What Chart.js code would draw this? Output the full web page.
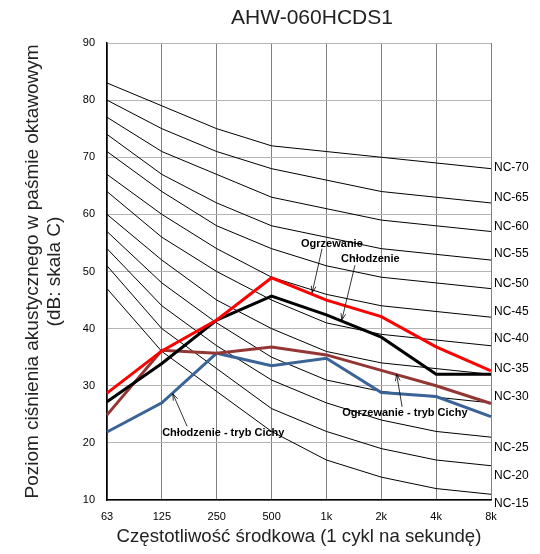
<!DOCTYPE html>
<html>
<head>
<meta charset="utf-8">
<title>AHW-060HCDS1</title>
<script src="https://cdn.jsdelivr.net/npm/chart.js@4.4.0/dist/chart.umd.min.js"></script>
<style>
    html, body { margin: 0; padding: 0; background: #fff; }
</style>
</head>
<body>
<canvas id="ncChart" width="540" height="554"></canvas>
<script>
// octave band centre frequencies
const bands = ['63', '125', '250', '500', '1k', '2k', '4k', '8k'];
const yTicks = [10, 20, 30, 40, 50, 60, 70, 80, 90];

// NC reference curves
const nc15 = [47, 36, 29, 22, 17, 14, 12, 11];
const nc20 = [51, 40, 33, 26, 22, 19, 17, 16];
const nc25 = [54, 44, 37, 31, 27, 24, 22, 21];
const nc30 = [57, 48, 41, 35, 31, 29, 28, 27];
const nc35 = [60, 52, 45, 40, 36, 34, 33, 32];
const nc40 = [64, 56, 50, 45, 41, 39, 38, 37];
const nc45 = [67, 60, 54, 49, 46, 44, 43, 42];
const nc50 = [71, 64, 58, 54, 51, 49, 48, 47];
const nc55 = [74, 67, 62, 58, 56, 54, 53, 52];
const nc60 = [77, 71, 67, 63, 61, 59, 58, 57];
const nc65 = [80, 75, 71, 68, 66, 64, 63, 62];
const nc70 = [83, 79, 75, 72, 71, 70, 69, 68];
const ncCurves = [nc15, nc20, nc25, nc30, nc35, nc40, nc45, nc50, nc55, nc60, nc65, nc70];
const ncNames = ['NC-15', 'NC-20', 'NC-25', 'NC-30', 'NC-35', 'NC-40', 'NC-45', 'NC-50', 'NC-55', 'NC-60', 'NC-65', 'NC-70'];
// where the NC names sit on the right (dB)
const ncLabelAt = [9.3, 14.2, 19.1, 28.0, 32.9, 38.2, 42.9, 47.9, 53.2, 57.8, 62.9, 68.1];

// measured unit
const heating = [28.7, 36.1, 41.5, 48.9, 45.0, 42.1, 36.8, 32.6];
const cooling = [27.2, 33.9, 41.5, 45.7, 42.4, 38.5, 32.0, 32.0];
const heatingQuiet = [24.9, 36.2, 35.7, 36.8, 35.4, 32.7, 30.0, 26.9];
const coolingQuiet = [21.9, 27.0, 35.7, 33.5, 34.8, 28.8, 28.1, 24.6];

const FONT = "'Liberation Sans', Arial, sans-serif";

// callouts: text centre and arrow (band index, dB)
const notes = [
    { text: 'Ogrzewanie', x: 4.1, y: 54.8, from: [3.92, 54.0], to: [3.74, 46.3] },
    { text: 'Chłodzenie', x: 4.8, y: 52.2, from: [4.52, 51.1], to: [4.28, 41.5] },
    { text: 'Ogrzewanie - tryb Cichy', x: 5.43, y: 25.2, from: [5.38, 26.3], to: [5.28, 32.0] },
    { text: 'Chłodzenie - tryb Cichy', x: 2.12, y: 21.7, from: [1.46, 22.9], to: [1.2, 28.6] }
];

const ncDatasets = ncCurves.map((vals, i) => ({
    label: ncNames[i],
    data: vals,
    borderColor: '#000',
    borderWidth: 1,
    pointRadius: 0,
    order: 2
}));

function series(label, data, color) {
    return { label: label, data: data, borderColor: color, borderWidth: 3, pointRadius: 0, order: 1 };
}

const extras = {
    id: 'extras',
    afterDatasetsDraw(chart) {
        const ctx = chart.ctx;
        const x = chart.scales.x;
        const y = chart.scales.y;
        ctx.save();

        // NC names
        ctx.fillStyle = '#000';
        ctx.font = '12px ' + FONT;
        ctx.textAlign = 'left';
        ctx.textBaseline = 'middle';
        ncNames.forEach((name, i) => {
            ctx.fillText(name, chart.chartArea.right + 3, y.getPixelForValue(ncLabelAt[i]));
        });

        // callouts
        ctx.font = 'bold 11px ' + FONT;
        ctx.textAlign = 'center';
        ctx.strokeStyle = '#000';
        ctx.lineWidth = 0.8;
        for (let n of notes) {
            const x1 = x.getPixelForValue(n.from[0]), y1 = y.getPixelForValue(n.from[1]);
            const x2 = x.getPixelForValue(n.to[0]), y2 = y.getPixelForValue(n.to[1]);
            ctx.beginPath();
            ctx.moveTo(x1, y1);
            ctx.lineTo(x2, y2);
            const a = Math.atan2(y2 - y1, x2 - x1);
            ctx.moveTo(x2 - 7 * Math.cos(a - 0.35), y2 - 7 * Math.sin(a - 0.35));
            ctx.lineTo(x2, y2);
            ctx.lineTo(x2 - 7 * Math.cos(a + 0.35), y2 - 7 * Math.sin(a + 0.35));
            ctx.stroke();
            ctx.fillText(n.text, x.getPixelForValue(n.x), y.getPixelForValue(n.y));
        }

        // title
        ctx.font = '21px ' + FONT;
        ctx.fillStyle = '#222';
        ctx.fillText('AHW-060HCDS1', 312, 18);
        ctx.restore();
    }
};

const ctx = document.getElementById('ncChart').getContext('2d');
const ncChart = new Chart(ctx, {
    type: 'line',
    data: {
        labels: bands,
        datasets: [
            series('Ogrzewanie', heating, '#ff0000'),
            series('Chłodzenie', cooling, '#000000'),
            series('Ogrzewanie - tryb Cichy', heatingQuiet, '#943634'),
            series('Chłodzenie - tryb Cichy', coolingQuiet, '#3a6397')
        ].concat(ncDatasets)
    },
    options: {
        responsive: false,
        animation: false,
        layout: { padding: { top: 43, right: 49, left: 0, bottom: 0 } },
        elements: { line: { tension: 0, borderCapStyle: 'butt' } },
        plugins: {
            legend: { display: false },
            tooltip: { enabled: false },
            title: { display: false }
        },
        scales: {
            x: {
                afterFit(scale) { scale.height = 54; },
                grid: { color: '#808080', lineWidth: 1, drawTicks: false },
                border: { color: '#000', width: 1.5 },
                ticks: { color: '#000', font: { family: FONT, size: 11 }, padding: 10, maxRotation: 0 },
                title: {
                    display: true,
                    text: 'Częstotliwość środkowa (1 cykl na sekundę)',
                    color: '#222',
                    font: { family: FONT, size: 18.6, lineHeight: 1.2 },
                    padding: { top: 0, bottom: 6 }
                }
            },
            y: {
                min: 10,
                max: 90,
                afterFit(scale) { scale.width = 107; },
                afterBuildTicks(scale) { scale.ticks = yTicks.map(v => ({ value: v })); },
                grid: { color: '#b4b4b4', lineWidth: 1, drawTicks: false },
                border: { color: '#000', width: 1.5 },
                ticks: { color: '#000', font: { family: FONT, size: 11 }, padding: 12 },
                title: {
                    display: true,
                    text: ['Poziom ciśnienia akustycznego w paśmie oktawowym', '(dB: skala C)'],
                    color: '#222',
                    font: { family: FONT, size: 19, lineHeight: '22px' },
                    padding: { top: 22, bottom: 0 }
                }
            }
        }
    },
    plugins: [extras]
});
</script>
</body>
</html>
